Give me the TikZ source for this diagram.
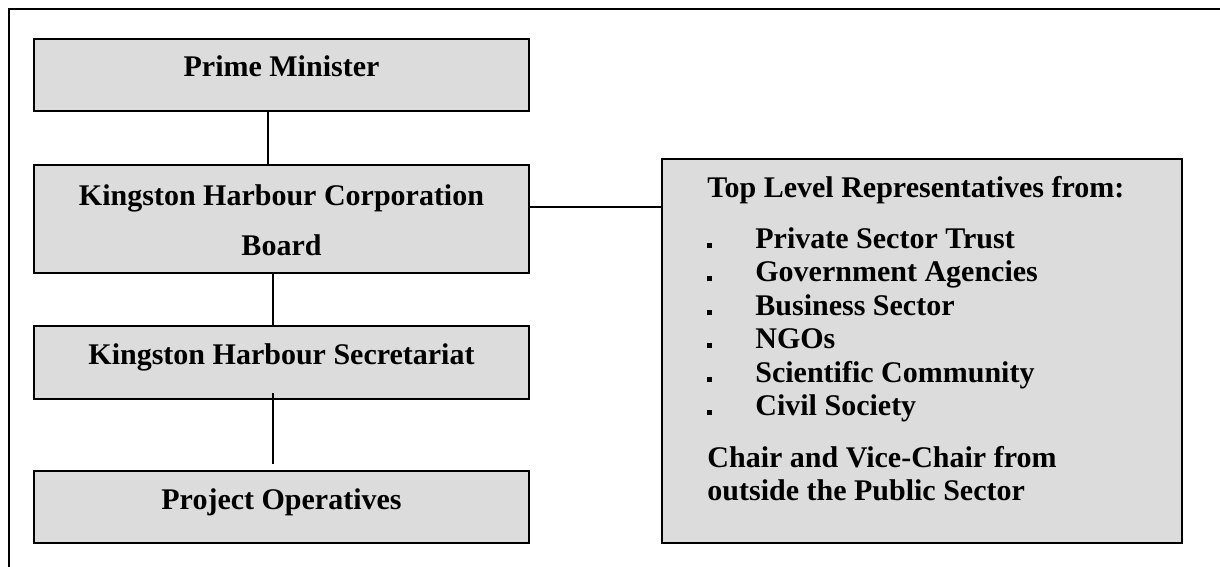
\documentclass[tikz,border=0pt]{standalone}
\usepackage{fontspec}
\setmainfont{Liberation Serif}
\usetikzlibrary{calc}
\definecolor{boxfill}{RGB}{220,220,220}
\newcommand{\sqbullet}{\makebox[24pt][l]{\rule{2.5pt}{2.5pt}}}
\begin{document}
\begin{tikzpicture}[x=0.5pt,y=-0.5pt,
  font=\fontsize{15}{16.5}\selectfont\bfseries,
  unitbox/.style={draw=black, line width=1pt, fill=boxfill, minimum width=247.5pt,
    inner sep=0pt, text height=6pt, text depth=4pt},
  link/.style={draw=black, line width=0.7pt},
  frameline/.style={line width=1pt},
  txt/.style={inner sep=0pt}]
\useasboundingbox (0,0) rectangle (1220,567);
% outer frame (top and left edges)
\draw[frameline] (9,567) -- (9,9) -- (1220,9);

% chain of command
\node[unitbox, minimum height=36pt]   (pm)  at (281.5,75)    {Prime Minister};
\node[unitbox, minimum height=54pt]   (khc) at (281.5,219)   {};
\node[txt, anchor=base] (khc1) at (281.5,205) {Kingston Harbour Corporation};
\node[txt, anchor=base] (khc2) at (281.5,255) {Board};
\node[unitbox, minimum height=36.5pt] (sec) at (281.5,362.5) {Kingston Harbour Secretariat};
\node[unitbox, minimum height=36pt]   (po)  at (281.5,507)   {Project Operatives};

% representatives box
\node[draw=black, line width=1pt, fill=boxfill, minimum width=260pt, minimum height=192pt,
      inner sep=0pt] (reps) at (922,351) {};
\node[txt, anchor=base west] (reps0) at (707,197) {Top Level Representatives from:};
\foreach \lbl/\yy [count=\i] in {Private Sector Trust/248, Government Agencies/281,
    Business Sector/315, NGOs/348, Scientific Community/382, Civil Society/415}
  \node[txt, anchor=base west] (reps\i) at (707,\yy) {\sqbullet\lbl};
\node[txt, anchor=base west] (chair1) at (707,467) {Chair and Vice-Chair from};
\node[txt, anchor=base west] (chair2) at (707,500) {outside the Public Sector};

% connectors
\draw[link] ($(pm.south)+(-13.5,0)$) -- ($(khc.north)+(-13.5,0)$);
\draw[link] ($(khc.south)+(-8.5,0)$) -- ($(sec.north)+(-8.5,0)$);
\draw[link] ($(sec.south)+(-8.5,-7)$) -- ($(po.north)+(-8.5,-6)$);
\draw[link] ($(khc.east)+(0,-12)$) coordinate (hl) -- (hl -| reps.west);
\end{tikzpicture}
\end{document}
